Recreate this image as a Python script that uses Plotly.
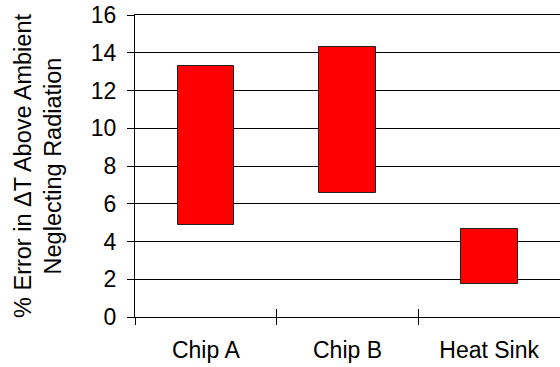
import plotly.graph_objects as go

categories = ["Chip A", "Chip B", "Heat Sink"]
low_values = [4.85, 6.58, 1.77]
high_values = [13.3, 14.32, 4.65]
y_tick_values = [0, 2, 4, 6, 8, 10, 12, 14, 16]

positions = list(range(len(categories)))
boundaries = [p - 0.5 for p in positions] + [positions[-1] + 0.5]
heights = [h - l for h, l in zip(high_values, low_values)]

FONT = "Liberation Sans, Arial, sans-serif"

fig = go.Figure()
fig.add_trace(go.Bar(
    x=positions,
    y=heights,
    base=low_values,
    width=0.4,
    marker=dict(color="#FF0000", line=dict(color="#222222", width=1)),
    showlegend=False,
    hoverinfo="skip",
))
# helper empty trace so the overlay axis (inner tick halves) is drawn
fig.add_trace(go.Scatter(x=[], y=[], xaxis="x2", yaxis="y", showlegend=False))

fig.update_layout(
    width=560,
    height=367,
    margin=dict(l=135, r=0, t=15, b=50),
    paper_bgcolor="white",
    plot_bgcolor="white",
    font=dict(family=FONT, size=23, color="black"),
    bargap=0,
    xaxis=dict(
        range=[-0.5, 2.5],
        tickmode="array",
        tickvals=positions,
        ticktext=categories,
        ticks="",
        ticklabelstandoff=12,
        showgrid=False,
        zeroline=False,
        showline=True,
        mirror=True,
        linecolor="black",
        linewidth=1,
        automargin=False,
        minor=dict(tickmode="array", tickvals=boundaries, ticks="outside",
                   ticklen=7, tickcolor="black", tickwidth=1, showgrid=False),
        fixedrange=True,
    ),
    xaxis2=dict(
        overlaying="x",
        matches="x",
        anchor="y",
        side="bottom",
        range=[-0.5, 2.5],
        tickmode="array",
        tickvals=boundaries,
        ticks="inside",
        ticklen=8,
        tickcolor="black",
        showticklabels=False,
        showgrid=False,
        zeroline=False,
        showline=False,
        automargin=False,
    ),
    yaxis=dict(
        range=[0, 16],
        tickmode="array",
        tickvals=y_tick_values,
        ticks="outside",
        ticklen=7,
        tickcolor="black",
        showgrid=True,
        gridcolor="black",
        gridwidth=1,
        zeroline=False,
        showline=True,
        linecolor="black",
        linewidth=1,
        ticklabelstandoff=6,
        automargin=False,
        title=dict(text="% Error in ΔT Above Ambient<br>Neglecting Radiation",
                   font=dict(size=23.5), standoff=22),
        fixedrange=True,
    ),
)

# remove the browser's default 8px body margin so the figure sits at the page origin
fig.write_html("out.html", config={"displayModeBar": False},
               post_script="document.body.style.margin='0';")
